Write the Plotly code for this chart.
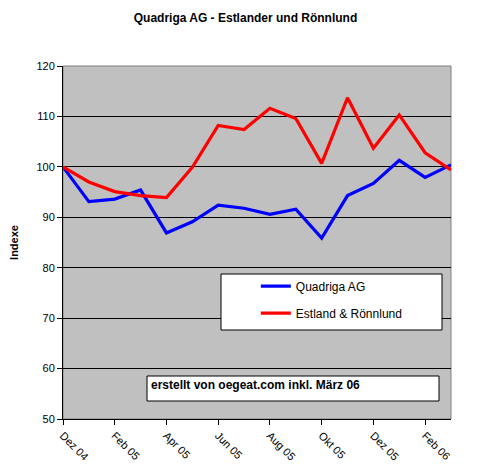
import plotly.graph_objects as go

months = ["Dez 04", "Jan 05", "Feb 05", "Mär 05", "Apr 05", "Mai 05", "Jun 05", "Jul 05",
          "Aug 05", "Sep 05", "Okt 05", "Nov 05", "Dez 05", "Jan 06", "Feb 06", "Mär 06"]
quadriga = [100.0, 93.1, 93.6, 95.4, 86.9, 89.1, 92.4, 91.8,
            90.6, 91.6, 85.9, 94.3, 96.7, 101.3, 97.9, 100.4]
estlander = [100.0, 97.0, 95.1, 94.3, 93.9, 99.9, 108.2, 107.4,
             111.6, 109.6, 100.7, 113.7, 103.7, 110.3, 102.8, 99.4]
tick_labels = months[::2]

font = "Liberation Sans, Arial, sans-serif"

# page has an 8px body margin, so the figure is a bit smaller than the window
fig = go.Figure()
fig.add_trace(go.Scatter(x=months, y=quadriga, mode="lines", name="Quadriga AG",
                         legendgroup="a", line=dict(color="#0000FF", width=3.2)))
fig.add_trace(go.Scatter(x=months, y=estlander, mode="lines", name="Estland & Rönnlund",
                         legendgroup="b", line=dict(color="#FF0000", width=3.2)))

fig.update_layout(
    width=475, height=460,
    margin=dict(l=55, r=32, t=58, b=49),
    paper_bgcolor="white",
    plot_bgcolor="#C0C0C0",
    font=dict(family=font, size=11, color="black"),
    title=dict(text="<b>Quadriga AG - Estlander und Rönnlund</b>", x=0.5, xref="container",
               y=1 - 10 / 460, yanchor="middle", font=dict(size=12)),
    showlegend=True,
    legend=dict(x=0.497, y=1 - (274 - 66) / 353 + 0.007, xanchor="left", yanchor="top",
                bgcolor="rgba(0,0,0,0)", borderwidth=0, tracegroupgap=8,
                font=dict(size=12), itemwidth=30),
    xaxis=dict(type="category", range=[0, 15], tickmode="array", tickvals=tick_labels,
               ticktext=tick_labels, tickangle=45, ticks="outside", ticklen=5,
               tickcolor="black", showline=True, linecolor="black", linewidth=1,
               showgrid=False, zeroline=False, automargin=False),
    yaxis=dict(range=[50, 120], dtick=10, ticks="outside", ticklen=5, tickcolor="black",
               showline=True, linecolor="black", linewidth=1, showgrid=True,
               gridcolor="black", gridwidth=1, zeroline=False, automargin=False,
               title=dict(text="<b>Indexe</b>", standoff=24, font=dict(size=11))),
    shapes=[
        dict(type="rect", xref="paper", yref="paper", x0=0, x1=1, y0=0, y1=1,
             line=dict(color="#808080", width=1), layer="below"),
        dict(type="rect", xref="paper", yref="paper",
             x0=(221 - 63) / 388, x1=(442 - 63) / 388,
             y0=1 - (330 - 66) / 353, y1=1 - (274 - 66) / 353,
             fillcolor="white", line=dict(color="black", width=1), layer="above"),
        dict(type="rect", xref="paper", yref="paper",
             x0=(147 - 63) / 388, x1=(439 - 63) / 388,
             y0=1 - (401 - 66) / 353, y1=1 - (376 - 66) / 353,
             fillcolor="white", line=dict(color="black", width=1), layer="above"),
    ],
    annotations=[
        dict(text="<b>erstellt von oegeat.com inkl. März 06</b>", xref="paper", yref="paper",
             x=(149 - 63) / 388, y=1 - (385 - 66) / 353, xanchor="left", yanchor="middle",
             showarrow=False, font=dict(size=12)),
    ],
)

fig.write_html("out.html")
